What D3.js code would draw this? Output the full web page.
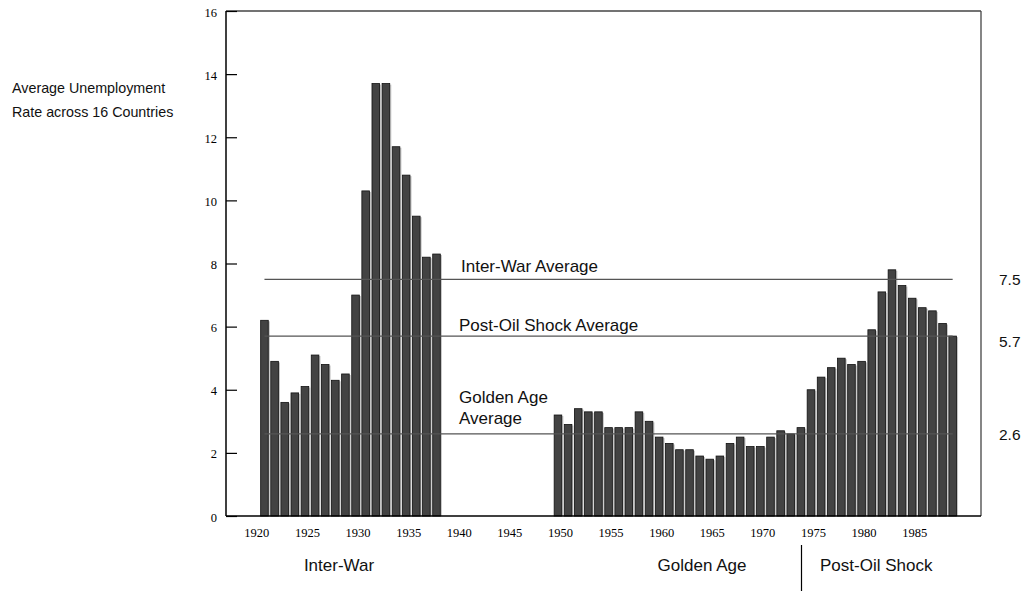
<!DOCTYPE html>
<html><head><meta charset="utf-8">
<script src="https://cdn.jsdelivr.net/npm/d3@7/dist/d3.min.js"></script>
<style>body{margin:0;background:#fff;} svg{display:block;}</style>
</head><body>
<svg id="c" width="1025" height="591"></svg>
<script>
const interWarYears = d3.range(1921, 1939);
const interWarValues = [6.2,4.9,3.6,3.9,4.1,5.1,4.8,4.3,4.5,7.0,10.3,13.7,13.7,11.7,10.8,9.5,8.2,8.3];
const postWarYears = d3.range(1950, 1990);
const postWarValues = [3.2,2.9,3.4,3.3,3.3,2.8,2.8,2.8,3.3,3.0,
                       2.5,2.3,2.1,2.1,1.9,1.8,1.9,2.3,2.5,2.2,
                       2.2,2.5,2.7,2.6,2.8,4.0,4.4,4.7,5.0,4.8,
                       4.9,5.9,7.1,7.8,7.3,6.9,6.6,6.5,6.1,5.7];
const yTicks = [0,2,4,6,8,10,12,14,16];
const xTicks = [1920,1925,1930,1935,1940,1945,1950,1955,1960,1965,1970,1975,1980,1985];
const averages = [
  {name:"Inter-War Average", value:7.5, label:"7.5"},
  {name:"Post-Oil Shock Average", value:5.7, label:"5.7"},
  {name:"Golden Age Average", value:2.6, label:"2.6"}
];
const eras = ["Inter-War","Golden Age","Post-Oil Shock"];
const titleLines = ["Average Unemployment","Rate across 16 Countries"];

const data = interWarYears.map((y,i)=>({year:y,value:interWarValues[i]}))
  .concat(postWarYears.map((y,i)=>({year:y,value:postWarValues[i]})));

const svg = d3.select("#c");
const L=226, R=981, T=11, B=516;
const x = d3.scaleLinear().domain([1917.2,1991.8]).range([L,R]);
const y = d3.scaleLinear().domain([0,16]).range([B,T]);
const bw = 7.6;

const sans = "'Liberation Sans', Arial, sans-serif";
const serif = "'Liberation Serif', 'Times New Roman', serif";

// bar shadows
svg.append("g").selectAll("rect").data(data).join("rect")
  .attr("x", d=>x(d.year)-bw/2+1.6).attr("y", d=>y(d.value)+1)
  .attr("width", bw).attr("height", d=>B-y(d.value)-1)
  .attr("fill","#c4c4c4");
// bars
svg.append("g").selectAll("rect").data(data).join("rect")
  .attr("x", d=>x(d.year)-bw/2).attr("y", d=>y(d.value))
  .attr("width", bw).attr("height", d=>B-y(d.value))
  .attr("fill","#434343").attr("stroke","#111").attr("stroke-width",0.8);

// average lines
svg.append("g").selectAll("line").data(averages).join("line")
  .attr("x1", x(1921)).attr("x2", x(1989))
  .attr("y1", d=>y(d.value)).attr("y2", d=>y(d.value))
  .attr("stroke","#555").attr("stroke-width",1.3);

// frame
svg.append("line").attr("x1",L).attr("x2",R).attr("y1",T).attr("y2",T).attr("stroke","#444").attr("stroke-width",1.3);
svg.append("line").attr("x1",R).attr("x2",R).attr("y1",T).attr("y2",B).attr("stroke","#444").attr("stroke-width",1.3);
svg.append("line").attr("x1",L).attr("x2",L).attr("y1",T).attr("y2",B).attr("stroke","#000").attr("stroke-width",1.5);
svg.append("line").attr("x1",L).attr("x2",R).attr("y1",B).attr("y2",B).attr("stroke","#000").attr("stroke-width",1.5);

// y axis
const yAxis = d3.axisLeft(y).tickValues(yTicks).tickSize(-11).tickPadding(20).tickFormat(d3.format("d"));
const gy = svg.append("g").attr("transform",`translate(${L},0)`).call(yAxis);
gy.select(".domain").remove();
gy.selectAll("line").attr("stroke","#000").attr("stroke-width",1.2);
gy.selectAll("text").attr("font-family",serif).attr("font-size",12.5).attr("fill","#000").attr("x",-9).attr("dy","0.4em");

// x axis
const xAxis = d3.axisBottom(x).tickValues(xTicks).tickSize(0).tickPadding(12).tickFormat(d3.format("d"));
const gx = svg.append("g").attr("transform",`translate(2,${B})`).call(xAxis);
gx.select(".domain").remove();
gx.selectAll("text").attr("font-family",serif).attr("font-size",12.5).attr("fill","#000");

// average annotations
svg.append("text").attr("x",461).attr("y",y(7.5)-7.5).text(averages[0].name)
  .attr("font-family",sans).attr("font-size",17).attr("fill","#111");
svg.append("text").attr("x",459).attr("y",y(5.7)-5).text(averages[1].name)
  .attr("font-family",sans).attr("font-size",17).attr("fill","#111");
const ga = svg.append("text").attr("font-family",sans).attr("font-size",17).attr("fill","#111");
ga.append("tspan").attr("x",459).attr("y",402.7).text("Golden Age");
ga.append("tspan").attr("x",459).attr("y",424).text("Average");

// right value labels
svg.append("g").selectAll("text").data(averages).join("text")
  .attr("x",999).attr("y",d=>y(d.value)+(d.value===5.7?5.5:0)).attr("dy","0.36em")
  .text(d=>d.label).attr("font-family",sans).attr("font-size",15.5).attr("fill","#111");

// era labels
const eraX = [339, 702, 820];
const eraAnchor = ["middle","middle","start"];
svg.append("g").selectAll("text").data(eras).join("text")
  .attr("x",(d,i)=>eraX[i]).attr("y",571).attr("text-anchor",(d,i)=>eraAnchor[i])
  .text(d=>d).attr("font-family",sans).attr("font-size",17).attr("fill","#111");
svg.append("line").attr("x1",801.5).attr("x2",801.5).attr("y1",545).attr("y2",591).attr("stroke","#000").attr("stroke-width",1.2);

// title
svg.append("g").selectAll("text").data(titleLines).join("text")
  .attr("x",12).attr("y",(d,i)=>92.7+i*24).text(d=>d)
  .attr("font-family",sans).attr("font-size",14.3).attr("fill","#111");
</script>
</body></html>
